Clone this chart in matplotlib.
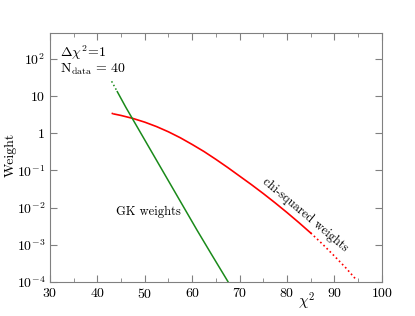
import numpy as np
import matplotlib.pyplot as plt
from matplotlib.ticker import FixedLocator, MultipleLocator

plt.rcParams['font.family'] = 'serif'
plt.rcParams['font.serif'] = ['cmr10', 'DejaVu Serif']
plt.rcParams['mathtext.fontset'] = 'cm'
plt.rcParams['axes.formatter.use_mathtext'] = True

# chi-squared weights (chi2, log10 weight)
chi_red = [43.0, 43.5, 45.0, 47.5, 50.0, 52.5, 55.0, 57.5, 60.0, 62.5, 65.0,
           67.5, 70.0, 72.5, 75.0, 77.5, 80.0, 82.5, 85.0, 87.5, 90.0, 92.5, 94.7]
logw_red = [0.54, 0.52, 0.48, 0.40, 0.30, 0.18, 0.04, -0.12, -0.30, -0.49, -0.70,
            -0.92, -1.15, -1.38, -1.62, -1.87, -2.13, -2.40, -2.68, -2.98, -3.30,
            -3.63, -3.95]

# GK weights
chi_green = [43.0, 44.2, 46.0, 49.0, 52.0, 55.0, 58.0, 61.0, 64.0, 67.6]
logw_green = [1.40, 1.12, 0.70, 0.04, -0.62, -1.28, -1.94, -2.60, -3.24, -4.00]

yticks = [1e-4, 1e-3, 1e-2, 1e-1, 1, 10, 1e2]
ylabels = ['$10^{-4}$', '$10^{-3}$', '$10^{-2}$', '$10^{-1}$', '1', '10', '$10^{2}$']

fig = plt.figure(figsize=(4.15, 3.16), dpi=100)
ax = fig.add_axes([0.1205, 0.1076, 0.7993, 0.788])

wr = 10.0 ** np.array(logw_red)
wg = 10.0 ** np.array(logw_green)
ax.plot(chi_red[1:19], wr[1:19], '-', color='#ff0000', lw=1.2)
ax.plot(chi_red[18:], wr[18:], ':', color='#ff0000', lw=1.2)
ax.plot(chi_red[:2], wr[:2], ':', color='#ff0000', lw=1.2)
ax.plot(chi_green[1:], wg[1:], '-', color='#1a8a1a', lw=1.1)
ax.plot(chi_green[:2], wg[:2], ':', color='#1a8a1a', lw=1.1)

ax.set_yscale('log')
ax.set_xlim(30, 100)
ax.set_ylim(1e-4, 500)
ax.yaxis.set_major_locator(FixedLocator(yticks))
ax.set_yticklabels(ylabels)
ax.yaxis.set_minor_locator(FixedLocator([]))
ax.xaxis.set_major_locator(MultipleLocator(10))
ax.xaxis.set_minor_locator(MultipleLocator(5))

for s in ax.spines.values():
    s.set_color('#808080')
ax.tick_params(which='both', direction='in', top=True, right=True,
               color='#808080', labelsize=10)
ax.tick_params(which='major', length=5)
ax.tick_params(which='minor', length=3)

ax.set_ylabel('Weight', fontsize=10)
ax.yaxis.set_label_coords(-0.1, 0.51)
ax.set_xlabel(r'$\chi^2$', fontsize=11)
ax.xaxis.set_label_coords(0.775, -0.035)

ax.text(0.03, 0.96, r'$\Delta\chi^2\!=\!1$', transform=ax.transAxes, fontsize=10, va='top')
ax.text(0.03, 0.885, r'$\mathrm{N_{data}}\,=\,40$', transform=ax.transAxes, fontsize=10, va='top')
ax.text(0.2, 0.27, 'GK weights', transform=ax.transAxes, fontsize=9)
ax.text(0.77, 0.269, 'chi-squared weights', transform=ax.transAxes, fontsize=9,
        rotation=-40, ha='center', va='center')

plt.savefig('out.png', dpi=100)
